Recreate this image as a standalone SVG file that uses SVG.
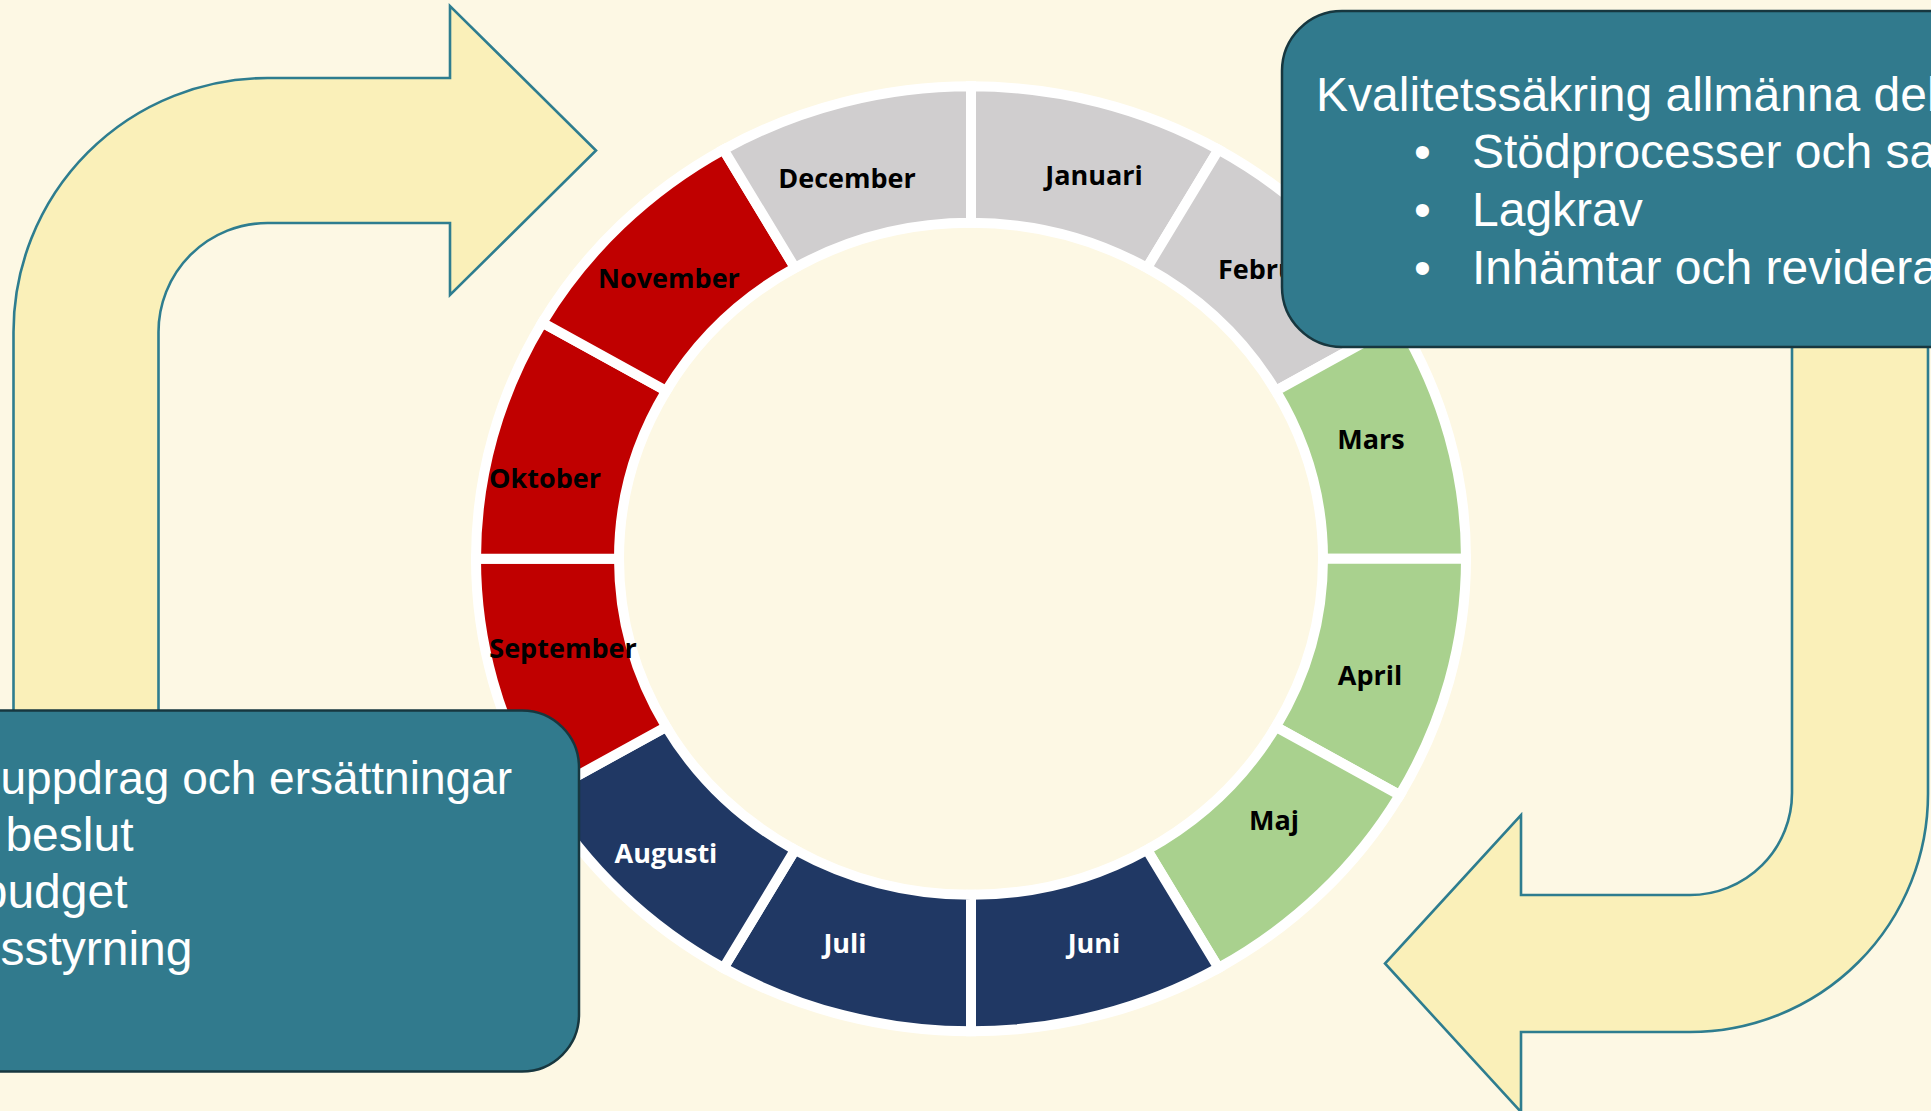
<svg xmlns="http://www.w3.org/2000/svg" width="1931" height="1111" viewBox="0 0 1931 1111">
<style>
.arrow{fill:#FAF0B9;stroke:#2E7D8F;stroke-width:2.6;stroke-linejoin:miter}
.seg{stroke:#FFFFFF;stroke-width:10;stroke-linejoin:miter}
.gray{fill:#D0CECF}
.red{fill:#C00000}
.green{fill:#A9D18E}
.navy{fill:#203864}
.lbl{font-family:"Open Sans","Noto Sans",sans-serif;font-weight:700;font-size:27px;text-anchor:middle}
.dark{fill:#000000}
.light{fill:#FFFFFF}
.box{fill:#317A8D;stroke:#17373F;stroke-width:2.5}
.bt{font-family:"Liberation Sans",Arial,sans-serif;fill:#FFFFFF}
</style>
<rect x="0" y="0" width="1931" height="1111" fill="#FDF8E4"/>
<g id="connectors">
<path id="arrow-top-left" class="arrow" d="M13.5,1000 L13.5,332 A254,254 0 0 1 267.5,78 L450,78 L450,6 L596,150.5 L450,295 L450,223 L267.5,223 A109,109 0 0 0 158.5,332 L158.5,1000 Z"/>
<path id="arrow-bottom-right" class="arrow" d="M1928,200 L1928,794 A238,238 0 0 1 1690,1032 L1521,1032 L1521,1112 L1385,963.5 L1521,815 L1521,895 L1690,895 A102,102 0 0 0 1792,793 L1792,200 Z"/>
</g>
<g id="ring">
<g id="januari"><path class="seg gray" d="M971,86.3 A495,472.5 0 0 1 1218.5,149.6 L1147,267.8 A352,336 0 0 0 971,222.8 Z"/><text class="lbl dark" x="1094" y="185">Januari</text></g>
<g id="februari"><path class="seg gray" d="M1218.5,149.6 A495,472.5 0 0 1 1399.7,322.55 L1275.8,390.8 A352,336 0 0 0 1147,267.8 Z"/><text class="lbl dark" x="1218" y="279" style="text-anchor:start">Februari</text></g>
<g id="mars"><path class="seg green" d="M1399.7,322.55 A495,472.5 0 0 1 1466,558.8 L1323,558.8 A352,336 0 0 0 1275.8,390.8 Z"/><text class="lbl dark" x="1371" y="449">Mars</text></g>
<g id="april"><path class="seg green" d="M1466,558.8 A495,472.5 0 0 1 1399.7,795.05 L1275.8,726.8 A352,336 0 0 0 1323,558.8 Z"/><text class="lbl dark" x="1370" y="685">April</text></g>
<g id="maj"><path class="seg green" d="M1399.7,795.05 A495,472.5 0 0 1 1218.5,968 L1147,849.8 A352,336 0 0 0 1275.8,726.8 Z"/><text class="lbl dark" x="1274" y="830">Maj</text></g>
<g id="juni"><path class="seg navy" d="M1218.5,968 A495,472.5 0 0 1 971,1031.3 L971,894.8 A352,336 0 0 0 1147,849.8 Z"/><text class="lbl light" x="1094" y="953">Juni</text></g>
<g id="juli"><path class="seg navy" d="M971,1031.3 A495,472.5 0 0 1 723.5,968 L795,849.8 A352,336 0 0 0 971,894.8 Z"/><text class="lbl light" x="845" y="953">Juli</text></g>
<g id="augusti"><path class="seg navy" d="M723.5,968 A495,472.5 0 0 1 542.3,795.05 L666.2,726.8 A352,336 0 0 0 795,849.8 Z"/><text class="lbl light" x="666" y="863">Augusti</text></g>
<g id="september"><path class="seg red" d="M542.3,795.05 A495,472.5 0 0 1 476,558.8 L619,558.8 A352,336 0 0 0 666.2,726.8 Z"/><text class="lbl dark" x="563" y="658">September</text></g>
<g id="oktober"><path class="seg red" d="M476,558.8 A495,472.5 0 0 1 542.3,322.55 L666.2,390.8 A352,336 0 0 0 619,558.8 Z"/><text class="lbl dark" x="545" y="488">Oktober</text></g>
<g id="november"><path class="seg red" d="M542.3,322.55 A495,472.5 0 0 1 723.5,149.6 L795,267.8 A352,336 0 0 0 666.2,390.8 Z"/><text class="lbl dark" x="669" y="288">November</text></g>
<g id="december"><path class="seg gray" d="M723.5,149.6 A495,472.5 0 0 1 971,86.3 L971,222.8 A352,336 0 0 0 795,267.8 Z"/><text class="lbl dark" x="847" y="188">December</text></g>
</g>
<g id="box-top-right">
<rect class="box" x="1282" y="11" width="720" height="336" rx="60" ry="60"/>
<text class="bt" font-size="48" x="1316" y="110.5">Kvalitetssäkring allmänna del</text>
<text class="bt" font-size="48" x="1414" y="168">•</text>
<text class="bt" font-size="48" x="1472" y="168">Stödprocesser och sa</text>
<text class="bt" font-size="48" x="1414" y="226">•</text>
<text class="bt" font-size="48" x="1472" y="226">Lagkrav</text>
<text class="bt" font-size="48" x="1414" y="284">•</text>
<text class="bt" font-size="48" x="1472" y="284">Inhämtar och revidera</text>
</g>
<g id="box-bottom-left">
<rect class="box" x="-140" y="710.5" width="719" height="361" rx="57" ry="57"/>
<text class="bt" font-size="46" text-anchor="end" x="512" y="793.5">uppdrag och ersättningar</text>
<text class="bt" font-size="48" text-anchor="end" x="133.5" y="850.5">beslut</text>
<text class="bt" font-size="48" text-anchor="end" x="127.5" y="907.5">budget</text>
<text class="bt" font-size="48" text-anchor="end" x="192.5" y="965">sstyrning</text>
</g>
</svg>
